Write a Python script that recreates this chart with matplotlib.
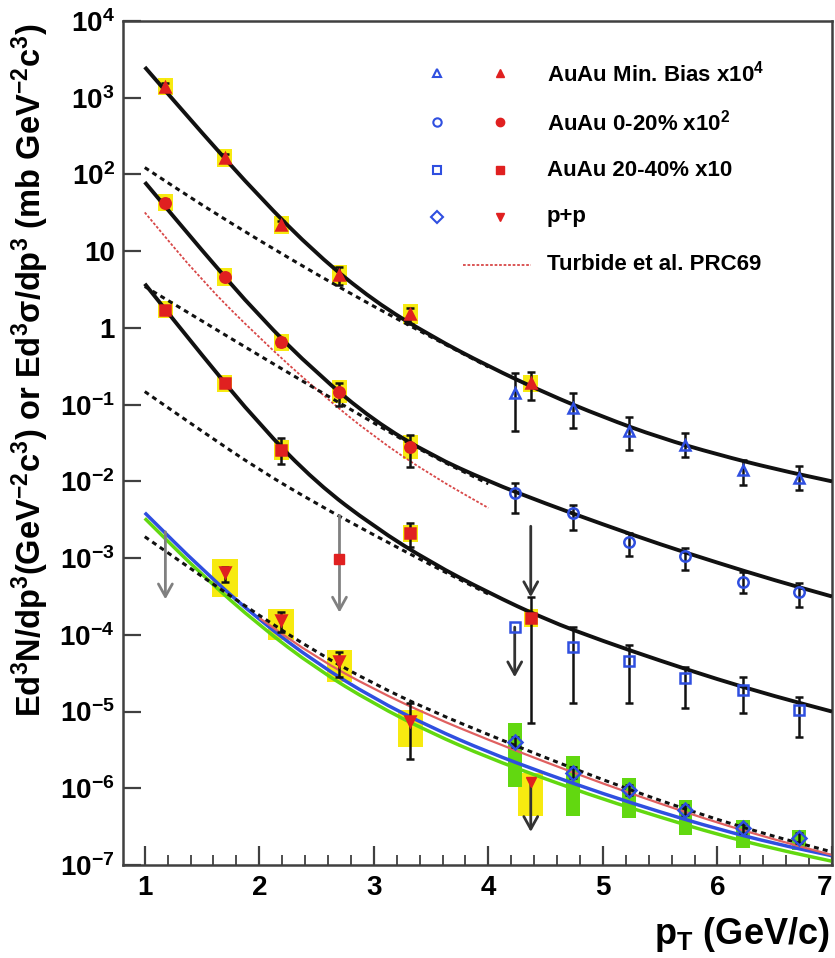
import numpy as np
import matplotlib
matplotlib.use("Agg")
import matplotlib.pyplot as plt
from matplotlib.path import Path
from matplotlib.patches import PathPatch
from matplotlib.ticker import FixedLocator, LogLocator, MultipleLocator, FuncFormatter, NullFormatter

plt.rcParams["font.family"] = ["Liberation Sans", "DejaVu Sans"]
plt.rcParams["font.weight"] = "bold"
plt.rcParams["mathtext.fontset"] = "custom"
plt.rcParams["mathtext.rm"] = "Liberation Sans:bold"
plt.rcParams["mathtext.bf"] = "Liberation Sans:bold"
plt.rcParams["mathtext.it"] = "Liberation Sans:bold"
plt.rcParams["mathtext.default"] = "rm"

# ---- data: AuAu Min. Bias x10^4 ----
mb_lo_pt = [1.18, 1.70, 2.19, 2.70, 3.32, 4.37]
mb_lo_y = [1400, 165, 22, 4.9, 1.5, 0.19]
mb_lo_elo = [1250, 150, 19.5, 3.6, 1.13, 0.115]
mb_lo_ehi = [1560, 182, 25, 6.3, 1.83, 0.27]
mb_lo_sys = [1.3, 1.3, 1.3, 1.35, 1.35, 1.3]

mb_hi_pt = [4.23, 4.74, 5.23, 5.72, 6.22, 6.71]
mb_hi_y = [0.14, 0.091, 0.045, 0.030, 0.014, 0.011]
mb_hi_elo = [0.046, 0.05, 0.026, 0.021, 0.0089, 0.0077]
mb_hi_ehi = [0.26, 0.14, 0.069, 0.043, 0.019, 0.016]

# ---- AuAu 0-20% x10^2 ----
c0020_lo_pt = [1.18, 1.70, 2.19, 2.70, 3.32]
c0020_lo_y = [43, 4.6, 0.65, 0.148, 0.028]
c0020_lo_elo = [39, 4.2, 0.58, 0.095, 0.0155]
c0020_lo_ehi = [48, 5.1, 0.74, 0.19, 0.040]
c0020_lo_sys = [1.3, 1.3, 1.3, 1.4, 1.45]

c0020_hi_pt = [4.23, 4.74, 5.23, 5.72, 6.22, 6.71]
c0020_hi_y = [0.0071, 0.0039, 0.0016, 0.00105, 0.00049, 0.00036]
c0020_hi_elo = [0.0039, 0.0023, 0.00105, 0.00071, 0.00035, 0.00023]
c0020_hi_ehi = [0.0095, 0.0049, 0.0021, 0.00135, 0.00066, 0.00048]

# upper limit (arrow only) at 4.37
c0020_ul_pt = 4.37
c0020_ul = [2.6e-3, 3.1e-4]

# ---- AuAu 20-40% x10 ----
c2040_lo_pt = [1.18, 1.70, 2.19, 3.32]
c2040_lo_y = [1.73, 0.19, 0.026, 0.0021]
c2040_lo_elo = [1.55, 0.17, 0.017, 0.0014]
c2040_lo_ehi = [1.95, 0.21, 0.037, 0.0029]
c2040_lo_sys = [1.3, 1.3, 1.35, 1.3]

c2040_ul_pt = 2.70
c2040_ul_y = 9.6e-4
c2040_ul = [3.6e-3, 1.95e-4]

c2040_mid_pt = 4.37
c2040_mid_y = 1.66e-4
c2040_mid_err = [7.1e-6, 3.1e-4]

c2040_hi_pt = [4.74, 5.23, 5.72, 6.22, 6.71]
c2040_hi_y = [6.9e-5, 4.5e-5, 2.75e-5, 1.9e-5, 1.05e-5]
c2040_hi_elo = [1.3e-5, 1.3e-5, 1.12e-5, 9.5e-6, 4.7e-6]
c2040_hi_ehi = [1.26e-4, 7.4e-5, 3.8e-5, 2.8e-5, 1.55e-5]

c2040_hi_ul_pt = 4.23
c2040_hi_ul_y = 1.26e-4
c2040_hi_ul = [1.26e-4, 2.8e-5]

# ---- p+p ----
pp_lo_pt = [1.70, 2.19, 2.70, 3.32]
pp_lo_y = [6.6e-4, 1.55e-4, 4.6e-5, 7.5e-6]
pp_lo_elo = [4.9e-4, 1.1e-4, 2.8e-5, 2.4e-6]
pp_lo_ehi = [7.7e-4, 2.0e-4, 6.0e-5, 1.3e-5]
pp_lo_boxlo = [3.1e-4, 8.5e-5, 2.45e-5, 3.5e-6]
pp_lo_boxhi = [9.6e-4, 2.2e-4, 6.3e-5, 1.05e-5]

pp_ul1_pt = 1.18
pp_ul1 = [2.2e-3, 2.9e-4]
pp_ul2_pt = 4.37
pp_ul2_y = 1.2e-6
pp_ul2 = [1.2e-6, 2.7e-7]
pp_ul2_box = [4.3e-7, 1.6e-6]

pp_hi_pt = [4.23, 4.74, 5.23, 5.72, 6.22, 6.71]
pp_hi_y = [4.0e-6, 1.6e-6, 9.5e-7, 5.2e-7, 3.0e-7, 2.24e-7]
pp_hi_elo = [3.4e-6, 1.35e-6, 8.2e-7, 4.5e-7, 2.6e-7, 1.95e-7]
pp_hi_ehi = [4.7e-6, 1.9e-6, 1.1e-6, 6.0e-7, 3.45e-7, 2.6e-7]
pp_hi_boxlo = [1.05e-6, 4.3e-7, 4.1e-7, 2.45e-7, 1.66e-7, 1.58e-7]
pp_hi_boxhi = [7.1e-6, 2.6e-6, 1.35e-6, 7.1e-7, 3.9e-7, 2.9e-7]

# ---- curves ----
curve_pt = [1.0, 1.5, 2.0, 2.5, 3.0, 3.5, 4.0, 4.5, 5.0, 5.5, 6.0, 6.5, 7.0]
fit_mb = [2510, 347, 51, 9.1, 2.24, 0.78, 0.316, 0.141, 0.069, 0.037, 0.0224, 0.0145, 0.0100]
fit_c0020 = [79.4, 10.2, 1.41, 0.257, 0.0617, 0.0219, 0.0100, 0.00513, 0.00275, 0.00151,
             0.00087, 0.000513, 0.000316]
fit_c2040 = [3.76, 0.44, 0.055, 0.0095, 0.00257, 0.00087, 0.000355, 0.000158, 8.3e-5, 4.6e-5,
             2.63e-5, 1.58e-5, 1.0e-5]

dash_pt = [1.0, 1.5, 2.0, 2.5, 3.0, 3.5, 4.0]
dash_mb = [123, 39.8, 13.8, 5.0, 1.9, 0.76, 0.31]
dash_c0020 = [3.47, 1.23, 0.437, 0.158, 0.0575, 0.0214, 0.0093]
dash_c2040 = [0.148, 0.045, 0.0141, 0.0051, 0.0020, 0.00081, 0.00034]

pp_dash = [1.9e-3, 5.75e-4, 1.78e-4, 5.9e-5, 2.29e-5, 1.02e-5, 5.0e-6, 2.5e-6, 1.29e-6, 6.9e-7,
           3.9e-7, 2.34e-7, 1.48e-7]
pp_blue = [3.9e-3, 7.1e-4, 1.55e-4, 4.27e-5, 1.48e-5, 6.2e-6, 2.95e-6, 1.55e-6, 8.5e-7, 4.9e-7,
           2.95e-7, 1.9e-7, 1.32e-7]
pp_green = [3.3e-3, 6.0e-4, 1.32e-4, 3.6e-5, 1.26e-5, 5.25e-6, 2.5e-6, 1.32e-6, 7.2e-7, 4.2e-7,
            2.5e-7, 1.62e-7, 1.12e-7]

pp_red_pt = [2.0, 2.5, 3.0, 3.5, 4.0, 4.5, 5.0, 5.5, 6.0, 6.5, 7.0]
pp_red = [1.66e-4, 5.0e-5, 1.95e-5, 8.7e-6, 4.27e-6, 2.19e-6, 1.15e-6, 6.3e-7, 3.55e-7, 2.14e-7,
          1.35e-7]

turbide_pt = [1.0, 1.5, 2.0, 2.5, 3.0, 3.5, 4.0]
turbide = [32, 4.1, 0.74, 0.155, 0.038, 0.012, 0.0045]

legend_labels = [r"AuAu Min. Bias x10$^{4}$", r"AuAu 0-20% x10$^{2}$",
                 "AuAu 20-40% x10", "p+p", "Turbide et al. PRC69"]

# ---- styles ----
BLUE = "#2f4fe0"
RED = "#e02020"
YELLOW = "#f7ea10"
GREEN = "#62d810"
GRAY = "#808080"
DARK = "#333333"
DOTS = (0, (1.6, 1.4))

fig = plt.figure(figsize=(8.35, 9.58), dpi=100)
ax = fig.add_axes([123 / 835, 93 / 958, 709 / 835, 844 / 958])
ax.set_yscale("log")
ax.set_xlim(0.81, 7.0)
ax.set_ylim(1e-7, 1e4)


def smooth_line(x, y, **kw):
    # quadratic Bezier through segment midpoints (geometric midpoints in y for the log axis)
    verts = [(x[0], y[0])]
    codes = [Path.MOVETO]
    mids = [((x[i] + x[i + 1]) / 2, np.sqrt(y[i] * y[i + 1])) for i in range(len(x) - 1)]
    verts.append(mids[0])
    codes.append(Path.LINETO)
    for i in range(1, len(x) - 1):
        verts += [(x[i], y[i]), mids[i]]
        codes += [Path.CURVE3, Path.CURVE3]
    verts.append((x[-1], y[-1]))
    codes.append(Path.LINETO)
    ax.add_patch(PathPatch(Path(verts, codes), fill=False, **kw))


def sys_boxes(x, y, f, w, color):
    y = np.array(y)
    lo = y / np.array(f)
    hi = y * np.array(f)
    ax.bar(x, hi - lo, bottom=lo, width=2 * w, color=color, lw=0, zorder=1)


def boxes(x, lo, hi, w, color):
    ax.bar(x, np.array(hi) - np.array(lo), bottom=lo, width=2 * w, color=color, lw=0, zorder=1)


def points(x, y, elo, ehi, marker, color, filled):
    y = np.array(y)
    yerr = [y - np.array(elo), np.array(ehi) - y]
    ax.errorbar(x, y, yerr=yerr, fmt="none", ecolor="#111111", elinewidth=1.8,
                capsize=3, capthick=1.8, zorder=4)
    ax.plot(x, y, ls="none", marker=marker, ms=7.5, mec=color,
            mfc=color if filled else "none", mew=1.8, zorder=5)


def arrow(x, top, tip, color):
    ax.annotate("", xy=(x, tip), xytext=(x, top),
                arrowprops=dict(arrowstyle="->,head_length=0.9,head_width=0.5",
                                color=color, lw=2.0, shrinkA=0, shrinkB=0), zorder=3)


# systematic boxes
sys_boxes(mb_lo_pt, mb_lo_y, mb_lo_sys, 0.065, YELLOW)
sys_boxes(c0020_lo_pt, c0020_lo_y, c0020_lo_sys, 0.065, YELLOW)
sys_boxes(c2040_lo_pt, c2040_lo_y, c2040_lo_sys, 0.065, YELLOW)
sys_boxes([c2040_mid_pt], [c2040_mid_y], [1.3], 0.06, YELLOW)
boxes(pp_lo_pt, pp_lo_boxlo, pp_lo_boxhi, 0.11, YELLOW)
boxes([pp_ul2_pt], [pp_ul2_box[0]], [pp_ul2_box[1]], 0.11, YELLOW)
boxes(pp_hi_pt, pp_hi_boxlo, pp_hi_boxhi, 0.06, GREEN)

# theory / fit curves
smooth_line(curve_pt, pp_green, color=GREEN, lw=2.5, zorder=2)
smooth_line(curve_pt, pp_blue, color=BLUE, lw=2.5, zorder=2)
smooth_line(pp_red_pt, pp_red, color="#e06060", lw=1.6, zorder=2)
smooth_line(turbide_pt, turbide, color="#d84848", lw=1.3, ls=(0, (1.5, 1.0)), zorder=2)
for d in (dash_mb, dash_c0020, dash_c2040):
    smooth_line(dash_pt, d, color="#111111", lw=2.2, ls=DOTS, zorder=2)
smooth_line(curve_pt, pp_dash, color="#111111", lw=2.2, ls=DOTS, zorder=2)
for f in (fit_mb, fit_c0020, fit_c2040):
    smooth_line(curve_pt, f, color="#111111", lw=2.8, zorder=3)

# arrows for upper limits
arrow(pp_ul1_pt, pp_ul1[0], pp_ul1[1], GRAY)
arrow(c2040_ul_pt, c2040_ul[0], c2040_ul[1], GRAY)
arrow(c0020_ul_pt, c0020_ul[0], c0020_ul[1], DARK)
arrow(c2040_hi_ul_pt, c2040_hi_ul[0], c2040_hi_ul[1], DARK)
arrow(pp_ul2_pt, pp_ul2[0], pp_ul2[1], DARK)

# data points
points(mb_lo_pt, mb_lo_y, mb_lo_elo, mb_lo_ehi, "^", RED, True)
points(mb_hi_pt, mb_hi_y, mb_hi_elo, mb_hi_ehi, "^", BLUE, False)
points(c0020_lo_pt, c0020_lo_y, c0020_lo_elo, c0020_lo_ehi, "o", RED, True)
points(c0020_hi_pt, c0020_hi_y, c0020_hi_elo, c0020_hi_ehi, "o", BLUE, False)
points(c2040_lo_pt, c2040_lo_y, c2040_lo_elo, c2040_lo_ehi, "s", RED, True)
points([c2040_mid_pt], [c2040_mid_y], [c2040_mid_err[0]], [c2040_mid_err[1]], "s", RED, True)
points(c2040_hi_pt, c2040_hi_y, c2040_hi_elo, c2040_hi_ehi, "s", BLUE, False)
ax.plot([c2040_ul_pt], [c2040_ul_y], ls="none", marker="s", ms=7.5, color=RED, zorder=5)
ax.plot([c2040_hi_ul_pt], [c2040_hi_ul_y], ls="none", marker="s", ms=7.5, mec=BLUE,
        mfc="none", mew=1.8, zorder=5)
points(pp_lo_pt, pp_lo_y, pp_lo_elo, pp_lo_ehi, "v", RED, True)
ax.plot([pp_ul2_pt], [pp_ul2_y], ls="none", marker="v", ms=7.5, color=RED, zorder=5)
points(pp_hi_pt, pp_hi_y, pp_hi_elo, pp_hi_ehi, "D", BLUE, False)

# legend drawn by hand
leg_y = [0.938, 0.880, 0.823, 0.768, 0.711]
leg_markers = ["^", "o", "s", "D"]
for i, lab in enumerate(legend_labels):
    yy = leg_y[i]
    if i < 4:
        ax.plot([0.443], [yy], transform=ax.transAxes, marker=leg_markers[i], ms=6,
                mec=BLUE, mfc="none", mew=1.5, ls="none", clip_on=False)
        ax.plot([0.532], [yy], transform=ax.transAxes, marker=leg_markers[i] if i != 3 else "v",
                ms=6, color=RED, ls="none", clip_on=False)
    else:
        ax.plot([0.48, 0.575], [yy, yy], transform=ax.transAxes, color="#d84848",
                lw=1.3, ls=(0, (1.5, 1.0)))
    ax.text(0.598, yy, lab, transform=ax.transAxes, fontsize=16, fontweight="bold",
            va="center", ha="left")

# axes styling
for s in ax.spines.values():
    s.set_linewidth(1.8)
    s.set_color("#404040")

ax.yaxis.set_major_locator(FixedLocator([10.0 ** k for k in range(-7, 5)]))
ax.yaxis.set_minor_locator(LogLocator(base=10, subs=np.arange(2, 10)))
ax.yaxis.set_minor_formatter(NullFormatter())


def ylab(v, pos):
    k = int(round(np.log10(v)))
    if k == 0:
        return "1"
    if k == 1:
        return "10"
    return r"$10^{%d}$" % k


ax.yaxis.set_major_formatter(FuncFormatter(ylab))
ax.set_xticks([1, 2, 3, 4, 5, 6, 7])
ax.xaxis.set_minor_locator(MultipleLocator(0.2))
ax.tick_params(axis="y", which="major", direction="in", length=13, width=1.6,
               color="#404040", labelsize=20, pad=6)
ax.tick_params(axis="y", which="minor", direction="in", length=6, width=1.3, color="#404040")
ax.tick_params(axis="x", which="major", direction="in", length=14, width=1.6,
               color="#404040", labelsize=20, pad=7)
ax.tick_params(axis="x", which="minor", direction="in", length=7, width=1.3, color="#404040")
for lbl in ax.get_xticklabels() + ax.get_yticklabels():
    lbl.set_fontweight("bold")
ax.get_xticklabels()[-1].set_horizontalalignment("right")

fig.text(0.994, 1 - 934 / 958, r"p$_{T}$ (GeV/c)", ha="right", va="center",
         fontsize=26, fontweight="bold")
fig.text(0.036, 1 - 370 / 958,
         r"Ed$^{3}$N/dp$^{3}$(GeV$^{-2}$c$^{3}$) or Ed$^{3}$σ/dp$^{3}$ (mb GeV$^{-2}$c$^{3}$)",
         rotation=90, ha="center", va="center", fontsize=23.5, fontweight="bold")

fig.savefig("out.png", dpi=100)
